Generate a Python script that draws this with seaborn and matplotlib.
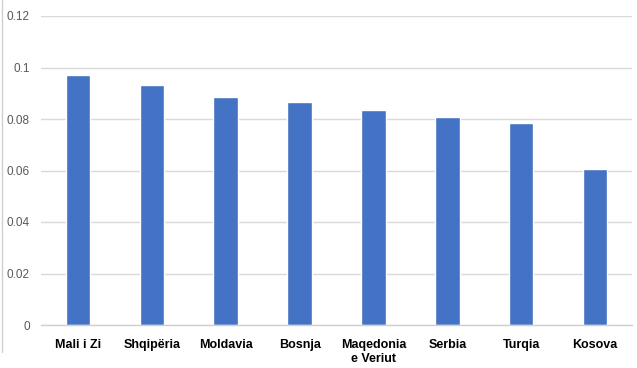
import matplotlib
matplotlib.use("Agg")
import matplotlib.pyplot as plt
import seaborn as sns
import pandas as pd
from matplotlib.lines import Line2D

countries = ["Mali i Zi", "Shqipëria", "Moldavia", "Bosnja", "Maqedonia\ne Veriut",
             "Serbia", "Turqia", "Kosova"]
values = [0.0971, 0.0932, 0.0886, 0.0866, 0.0835, 0.0808, 0.0784, 0.0607]
yticks = [0, 0.02, 0.04, 0.06, 0.08, 0.1, 0.12]
ytick_labels = ["0", "0.02", "0.04", "0.06", "0.08", "0.1", "0.12"]

df = pd.DataFrame({"country": countries, "value": values})

sns.set_theme(style="white")
plt.rcParams["font.family"] = ["Liberation Sans", "DejaVu Sans"]

fig = plt.figure(figsize=(6.37, 3.68), dpi=100)
ax = fig.add_axes([41 / 637, 1 - 325 / 368, 591 / 637, 309 / 368])

sns.barplot(data=df, x="country", y="value", color="#4472C4", saturation=1,
            width=0.33, ax=ax)

ax.set_ylim(0, 0.12)
ax.set_yticks(yticks)
ax.set_yticklabels(ytick_labels, color="#595959", fontsize=8.5)
ax.yaxis.grid(True, color="#d9d9d9", linewidth=1)
ax.set_axisbelow(True)
for s in ["top", "right", "left"]:
    ax.spines[s].set_visible(False)
ax.spines["bottom"].set_color("#d0d0d0")
ax.spines["bottom"].set_linewidth(1)
ax.tick_params(axis="y", length=0, pad=8)
ax.tick_params(axis="x", length=0, pad=10)
for lab in ax.get_xticklabels():
    lab.set_fontweight("bold")
    lab.set_fontsize(9)
    lab.set_color("black")
ax.set_xlabel("")
ax.set_ylabel("")

# thin frame edge on the left of the picture
fig.add_artist(Line2D([2 / 637, 2 / 637], [1, 1 - 352 / 368],
                      transform=fig.transFigure, color="#d0d0d0", linewidth=1))

fig.savefig("out.png", dpi=100)
